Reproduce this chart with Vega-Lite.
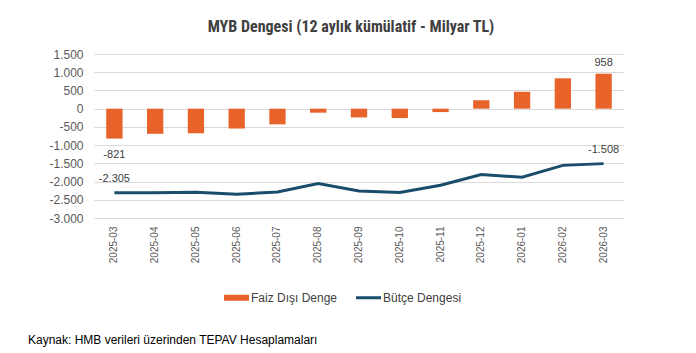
{
  "$schema": "https://vega.github.io/schema/vega-lite/v6.json",
  "padding": {"left": 27, "top": 19, "right": 10, "bottom": 5},
  "background": "white",
  "title": {
    "text": "Kaynak: HMB verileri üzerinden TEPAV Hesaplamaları",
    "orient": "bottom", "anchor": "start", "frame": "bounds",
    "font": "Liberation Sans", "fontSize": 12, "fontWeight": "normal",
    "color": "#000000", "offset": 31, "dx": -21
  },
  "vconcat": [
    {
      "title": {
        "text": "MYB Dengesi (12 aylık kümülatif - Milyar TL)",
        "font": "Liberation Sans Narrow, Roboto Condensed, Liberation Sans",
        "fontSize": 16, "fontWeight": "bold", "color": "#404040",
        "anchor": "middle", "offset": 13, "dx": -8
      },
      "width": 530,
      "height": 164,
      "data": {
        "values": [
          {"ay": "2025-03", "faiz": -821, "butce": -2305},
          {"ay": "2025-04", "faiz": -690, "butce": -2305},
          {"ay": "2025-05", "faiz": -675, "butce": -2296},
          {"ay": "2025-06", "faiz": -545, "butce": -2350},
          {"ay": "2025-07", "faiz": -430, "butce": -2287},
          {"ay": "2025-08", "faiz": -110, "butce": -2055},
          {"ay": "2025-09", "faiz": -240, "butce": -2259},
          {"ay": "2025-10", "faiz": -258, "butce": -2300},
          {"ay": "2025-11", "faiz": -93, "butce": -2102},
          {"ay": "2025-12", "faiz": 231, "butce": -1806},
          {"ay": "2026-01", "faiz": 463, "butce": -1880},
          {"ay": "2026-02", "faiz": 833, "butce": -1556},
          {"ay": "2026-03", "faiz": 958, "butce": -1508}
        ]
      },
      "encoding": {
        "x": {
          "field": "ay", "type": "ordinal", "sort": null, "title": null,
          "scale": {"paddingInner": 0.6, "paddingOuter": 0.3},
          "axis": {
            "labelAngle": -90, "labelPadding": 8, "ticks": false, "domain": false,
            "grid": false, "labelFontSize": 10, "labelColor": "#595959",
            "labelFont": "Liberation Sans"
          }
        }
      },
      "layer": [
        {
          "mark": {"type": "bar"},
          "encoding": {
            "y": {
              "field": "faiz", "type": "quantitative", "title": null,
              "scale": {"domain": [-3000, 1500], "nice": false},
              "axis": {
                "values": [-3000, -2500, -2000, -1500, -1000, -500, 0, 500, 1000, 1500],
                "tickCount": 10,
                "format": ",d", "ticks": false, "domain": false, "labelPadding": 11,
                "labelOverlap": false,
                "gridColor": "#D9D9D9", "gridWidth": 1, "labelFontSize": 12,
                "labelColor": "#595959", "labelFont": "Liberation Sans"
              }
            },
            "color": {
              "datum": "Faiz Dışı Denge", "type": "nominal",
              "scale": {"domain": ["Faiz Dışı Denge", "Bütçe Dengesi"], "range": ["#E8632A", "#1A4D6B"]},
              "legend": {
                "title": null, "orient": "none", "direction": "horizontal",
                "legendX": 130, "legendY": 231,
                "labelFontSize": 12, "labelColor": "#404040", "labelFont": "Liberation Sans",
                "symbolSize": 625, "labelOffset": 2, "columnPadding": 18,
                "encode": {
                  "symbols": {
                    "update": {
                      "shape": {"signal": "datum.value === 'Faiz Dışı Denge' ? 'M-1,-0.24H1V0.24H-1Z' : 'M-1,-0.12H1V0.12H-1Z'"},
                      "fill": {"signal": "scale('color', datum.value)"},
                      "stroke": {"value": "transparent"},
                      "strokeWidth": {"value": 0},
                      "opacity": {"value": 1},
                      "fillOpacity": {"value": 1}
                    }
                  }
                }
              }
            }
          }
        },
        {
          "mark": {"type": "line", "strokeWidth": 3},
          "encoding": {
            "y": {
              "field": "butce", "type": "quantitative", "title": null,
              "axis": {
                "values": [-3000, -2500, -2000, -1500, -1000, -500, 0, 500, 1000, 1500],
                "tickCount": 10,
                "format": ",d", "ticks": false, "domain": false, "labelPadding": 11,
                "labelOverlap": false,
                "gridColor": "#D9D9D9", "gridWidth": 1, "labelFontSize": 12,
                "labelColor": "#595959", "labelFont": "Liberation Sans"
              }
            },
            "color": {"datum": "Bütçe Dengesi", "type": "nominal"}
          }
        },
        {
          "transform": [{"filter": "datum.ay === '2025-03'"}],
          "mark": {"type": "text", "dy": 16, "fontSize": 11, "color": "#404040", "font": "Liberation Sans"},
          "encoding": {
            "y": {"field": "faiz", "type": "quantitative"},
            "text": {"field": "faiz", "type": "quantitative", "format": ",d"}
          }
        },
        {
          "transform": [{"filter": "datum.ay === '2026-03'"}],
          "mark": {"type": "text", "dy": -11, "fontSize": 11, "color": "#404040", "font": "Liberation Sans"},
          "encoding": {
            "y": {"field": "faiz", "type": "quantitative"},
            "text": {"field": "faiz", "type": "quantitative", "format": ",d"}
          }
        },
        {
          "transform": [{"filter": "datum.ay === '2025-03' || datum.ay === '2026-03'"}],
          "mark": {"type": "text", "dy": -14, "fontSize": 11, "color": "#404040", "font": "Liberation Sans"},
          "encoding": {
            "y": {"field": "butce", "type": "quantitative"},
            "text": {"field": "butce", "type": "quantitative", "format": ",d"}
          }
        }
      ]
    }
  ],
  "config": {
    "view": {"stroke": null},
    "font": "Liberation Sans",
    "axisY": {"labelOverlap": false},
    "locale": {
      "number": {"decimal": ",", "thousands": ".", "grouping": [3], "currency": ["", " TL"], "minus": "-"}
    }
  }
}
